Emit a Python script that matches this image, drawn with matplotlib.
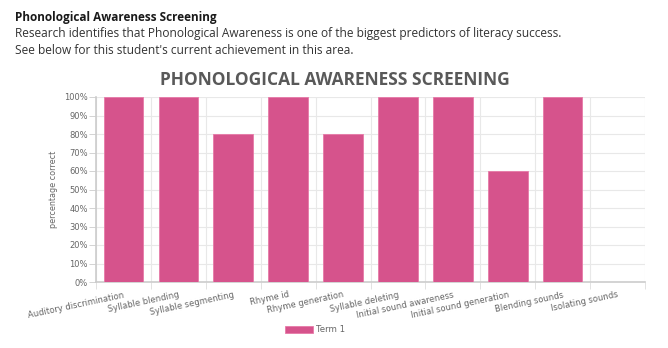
import matplotlib
matplotlib.use("Agg")
import matplotlib.pyplot as plt
from matplotlib.ticker import FixedLocator, FuncFormatter, MultipleLocator
import numpy as np

categories = ["Auditory discrimination", "Syllable blending", "Syllable segmenting",
              "Rhyme id", "Rhyme generation", "Syllable deleting",
              "Initial sound awareness", "Initial sound generation",
              "Blending sounds", "Isolating sounds"]
term1 = [100, 100, 80, 100, 80, 100, 100, 60, 100, 0]
series_name = "Term 1"

W, H = 668, 348
fig = plt.figure(figsize=(W / 100, H / 100), dpi=100)
fig.patch.set_facecolor("white")

fig.text(15 / W, 1 - 17 / H, "Phonological Awareness Screening", fontsize=8.5,
         fontweight="bold", family="Open Sans", color="#1a1a1a", va="center", ha="left")
fig.text(15 / W, 1 - 33 / H,
         "Research identifies that Phonological Awareness is one of the biggest predictors of literacy success.",
         fontsize=8.6, family="Open Sans", color="#333333", va="center", ha="left")
fig.text(15 / W, 1 - 50 / H, "See below for this student's current achievement in this area.",
         fontsize=8.6, family="Open Sans", color="#333333", va="center", ha="left")

fig.text(335 / W, 1 - 80 / H, "PHONOLOGICAL AWARENESS SCREENING", fontsize=12.5,
         fontweight="bold", family="Open Sans", color="#595959", va="center", ha="center")

left, right, top, bottom = 96, 645, 97, 282
ax = fig.add_axes([left / W, 1 - bottom / H, (right - left) / W, (bottom - top) / H])
n = len(categories)
x = np.arange(n)
ax.bar(x, term1, width=0.72, color="#d6538c", edgecolor="#e77aa8", linewidth=0.6,
       label=series_name, zorder=3)
ax.set_xlim(-0.5, n - 0.5)
ax.set_ylim(0, 100)

ax.yaxis.set_major_locator(MultipleLocator(10))
ax.yaxis.set_major_formatter(FuncFormatter(lambda v, p: f"{int(v)}%"))
ax.tick_params(axis="y", labelsize=6, colors="#666666", length=5, width=0.6, pad=1, color="#cccccc")
ax.set_xticks(x)
ax.set_xticklabels(categories, rotation=12, ha="right", rotation_mode="anchor",
                   fontsize=6, color="#666666")
ax.tick_params(axis="x", length=0, pad=6)
ax.xaxis.set_minor_locator(FixedLocator(np.arange(-0.5, n, 1.0)))
ax.tick_params(axis="x", which="minor", length=5, width=0.6, color="#dddddd")
ax.grid(True, axis="y", which="major", color="#e8e8e8", linewidth=0.8, zorder=0)
ax.grid(True, axis="x", which="minor", color="#e8e8e8", linewidth=0.8, zorder=0)
for s in ["top", "right"]:
    ax.spines[s].set_visible(False)
for s in ["left", "bottom"]:
    ax.spines[s].set_color("#cccccc")
    ax.spines[s].set_linewidth(1.2)
ax.set_ylabel("percentage correct", fontsize=5.8, color="#666666", labelpad=4)

leg = fig.legend(loc="center", bbox_to_anchor=(315 / W, 1 - 330 / H), frameon=False,
                 fontsize=6.2, handlelength=3.3, handleheight=1.0, handletextpad=0.4)
for t in leg.get_texts():
    t.set_color("#666666")

fig.savefig("out.png", dpi=100, facecolor="white")
